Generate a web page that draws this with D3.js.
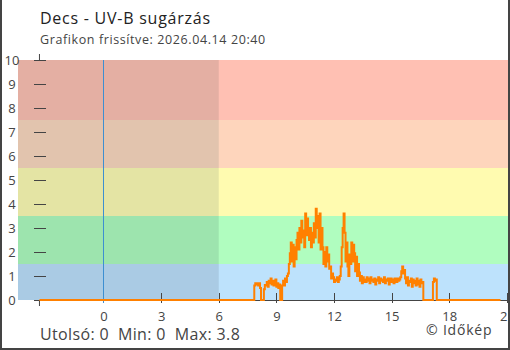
<!DOCTYPE html>
<html><head><meta charset="utf-8">
<script src="https://cdn.jsdelivr.net/npm/d3@7"></script>
<style>html,body{margin:0;padding:0;background:#fff;}svg{display:block;}</style>
</head><body>
<script>
// ---- data ----
const title = "Decs - UV-B sugárzás";
const subtitle = "Grafikon frissítve: 2026.04.14 20:40";
const footer = ["Utolsó: 0", "Min: 0", "Max: 3.8"];
const credit = "© Időkép";
const yTicks = [0,1,2,3,4,5,6,7,8,9,10];
const xTicks = [0,3,6,9,12,15,18,21];
const xTickLabels = ["0","3","6","9","12","15","18","21"];
const bandBreaks = [0, 1.5, 3.5, 5.5, 7.5, 10];
const bandColors = ["#bde2fc", "#b0fdbf", "#fffbb0", "#fed5bc", "#ffc0b3"];
const bandColorsNight = ["#aacbe4", "#9de4ae", "#e4e4a4", "#e2c4ae", "#e4afa3"];
const nightEnd = 6;
const dataStart = -3.333, dataEnd = 20.667;
const sampleStart = 7.75, sampleStepH = 0.05;
const uvb = [0,0,0.6,0.7,0.65,0.7,0.6,0.7,0.5,0,0,0,0.45,0.62,
0.6,0.75,0.55,0.8,0.7,0.9,0.65,0.8,0.6,0.75,0.85,0.55,0.7,0.5,0.65,
0,0,
0.6,0.8,0.6,0.9,0.75,1.0,1.1,1.5,1.95,
2.4,1.6,2.3,1.4,2.2,1.7,2.5,
2.8,2.1,3.0,2.4,3.3,2.6,2.9,2.2,
3.6,2.7,3.4,2.9,
2.5,3.0,2.2,2.8,2.4,
3.2,2.6,3.8,3.0,3.5,
2.4,3.6,2.1,3.0,
2.2,1.5,2.0,1.4,2.2,1.6,1.9,1.3,
1.4,0.9,1.1,
0.95,0.75,0.85,0.8,0.95,0.75,0.85,
1.0,1.4,2.2,3.0,3.6,2.8,1.6,2.4,1.4,1.0,
1.9,1.5,2.4,1.6,2.3,1.95,1.2,1.8,1.0,1.5,
1.15,0.8,1.0,0.7,0.95,0.75,
0.85,0.75,0.95,0.8,0.9,0.7,0.95,0.8,0.85,0.75,0.9,0.65,0.85,0.8,0.95,0.7,0.9,0.8,0.85,0.75,0.95,0.7,0.85,0.8,0.9,0.65,0.8,0.9,0.75,0.85,0.7,0.9,0.8,0.75,0.9,0.8,0.85,
0.95,1.2,1.4,1.1,1.25,
0.9,0.7,0.95,0.6,0.8,0.75,0.9,0.55,0.85,0.7,0.8,0.6,0.9,0.65,0.8,0.55,0.85,0.7,0.75,
0,0,0,0,0,0,0,0,0,0,
0.75,0.9,0.8,0.85,
0,0,0];

// ---- chart ----
const W = 510, H = 350;
const svg = d3.select("body").append("svg").attr("width", W).attr("height", H);
const x = d3.scaleLinear().domain([-4.45, 21.11]).range([18, 509]);
const y = d3.scaleLinear().domain([0, 10]).range([300, 60]);
const font = "'Open Sans', sans-serif";

// axis stubs (under bands)
svg.append("line").attr("x1", x(dataStart)).attr("x2", x(dataStart)).attr("y1", y(10)-6).attr("y2", y(0)+6)
  .attr("stroke", "#444").attr("stroke-width", 1);

// bands
const bands = d3.range(bandColors.length).map(i => ({lo: bandBreaks[i], hi: bandBreaks[i+1], i}));
svg.append("g").selectAll("rect").data(bands).join("rect")
  .attr("x", x.range()[0]).attr("width", x.range()[1]-x.range()[0])
  .attr("y", d => y(d.hi)).attr("height", d => y(d.lo)-y(d.hi))
  .attr("fill", d => bandColors[d.i]);
svg.append("g").selectAll("rect").data(bands).join("rect")
  .attr("x", x.range()[0]).attr("width", x(nightEnd)-x.range()[0])
  .attr("y", d => y(d.hi)).attr("height", d => y(d.lo)-y(d.hi))
  .attr("fill", d => bandColorsNight[d.i]);

// x axis line
svg.append("line").attr("x1", 34).attr("x2", x.range()[1]).attr("y1", y(0)+0.5).attr("y2", y(0)+0.5)
  .attr("stroke", "#444").attr("stroke-width", 1);
// x ticks
const xg = svg.append("g");
xg.selectAll("line").data(xTicks).join("line")
  .attr("x1", d => Math.round(x(d))+0.5).attr("x2", d => Math.round(x(d))+0.5)
  .attr("y1", y(0)-7).attr("y2", y(0)+3).attr("stroke", "#444");
xg.selectAll("text").data(xTicks).join("text")
  .attr("x", d => x(d)+0.5).attr("y", 321).attr("text-anchor", "middle")
  .attr("font-family", font).attr("font-size", 13).attr("fill", "#444")
  .text((d,i) => xTickLabels[i]);

// midnight line
svg.append("line").attr("x1", Math.round(x(0))+0.5).attr("x2", Math.round(x(0))+0.5)
  .attr("y1", y(10)).attr("y2", y(0)+3).attr("stroke", "#3d8fd1").attr("stroke-width", 1);

// y ticks
const yg = svg.append("g");
yg.selectAll("line").data(yTicks).join("line")
  .attr("x1", 34).attr("x2", 46).attr("y1", d => y(d)+0.5).attr("y2", d => y(d)+0.5)
  .attr("stroke", "#444");
yg.selectAll("text").data(yTicks).join("text")
  .attr("x", 12).attr("y", d => y(d)+5).attr("text-anchor", "middle")
  .attr("font-family", font).attr("font-size", 13).attr("fill", "#444").text(d => d);

// series
const pts = [[dataStart, 0]];
uvb.forEach((v, i) => pts.push([sampleStart + i*sampleStepH, v]));
pts.push([dataEnd, 0]);
svg.append("path").datum(pts)
  .attr("d", d3.line().x(d => x(d[0])).y(d => y(d[1])).curve(d3.curveStepAfter))
  .attr("fill", "none").attr("stroke", "#ff8000").attr("stroke-width", 2);

// texts
svg.append("text").attr("x", 40).attr("y", 24).attr("font-family", font).attr("font-size", 16)
  .attr("letter-spacing", 0.75).attr("fill", "#222").text(title);
svg.append("text").attr("x", 40).attr("y", 44).attr("font-family", font).attr("font-size", 12.5)
  .attr("letter-spacing", 0.6).attr("fill", "#444").text(subtitle);
svg.append("text").attr("x", 40).attr("y", 340).attr("font-family", font).attr("font-size", 16)
  .attr("letter-spacing", 0.35).attr("fill", "#444").attr("xml:space", "preserve").text(footer.join("  "));
svg.append("text").attr("x", 426).attr("y", 335).attr("font-family", font).attr("font-size", 14)
  .attr("letter-spacing", 0.8).attr("fill", "#444").text(credit);

// frame
svg.append("path").attr("d", `M1,0 V${H-1} H${W-1} V0`).attr("fill", "none")
  .attr("stroke", "#444").attr("stroke-width", 2);
</script>
</body></html>
